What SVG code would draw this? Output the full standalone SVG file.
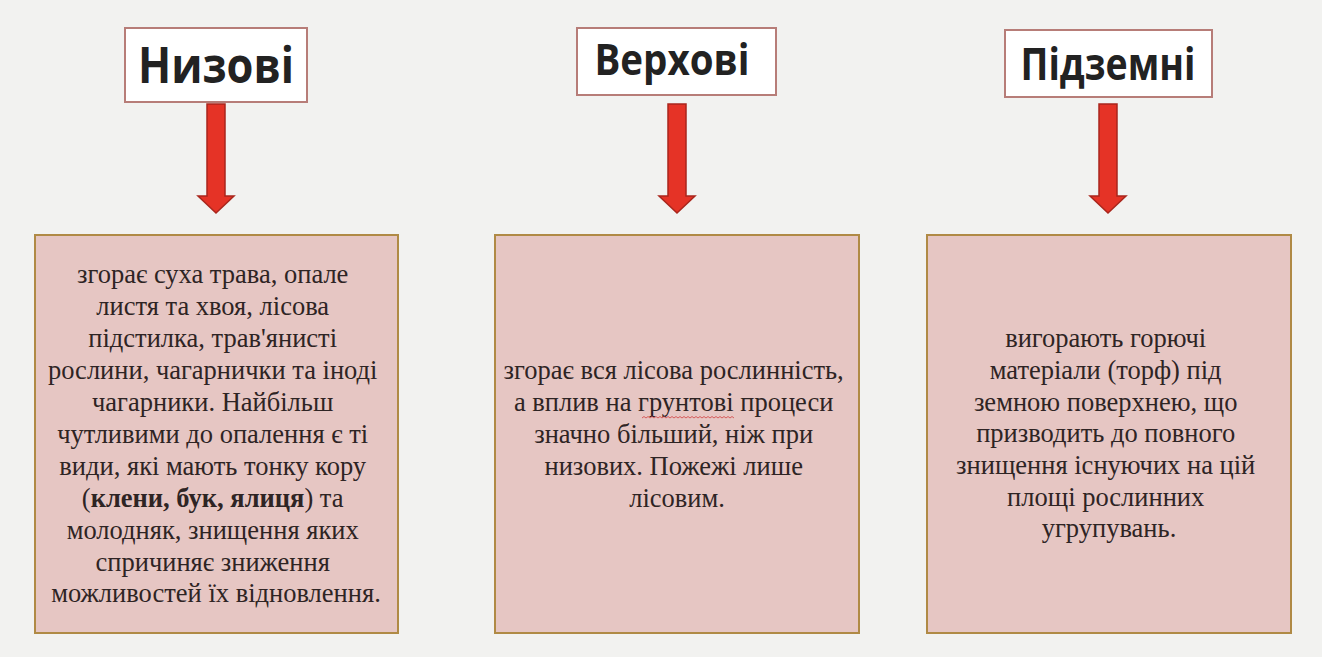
<svg xmlns="http://www.w3.org/2000/svg" width="1322" height="657" viewBox="0 0 1322 657">
<style>
.hdr{fill:#ffffff;stroke:#b77d78;stroke-width:2}
.ht{font-family:"Open Sans","Liberation Sans",sans-serif;font-weight:bold;fill:#222222;text-anchor:middle}
.box{fill:#e6c6c3;stroke:#b08a45;stroke-width:2}
.bt{font-family:"Liberation Serif","Times New Roman",serif;font-size:26.5px;fill:#2e2424;text-anchor:middle}
.arr{fill:#e53326;stroke:#a9261c;stroke-width:1.5}
</style>
<rect width="1322" height="657" fill="#f2f2f0"/>
<g id="node-nyzovi">
<rect class="hdr" x="125" y="28" width="182" height="74"/>
<text class="ht" x="216" y="83" font-size="50" textLength="156" lengthAdjust="spacingAndGlyphs">Низові</text>
</g>
<g id="node-verkhovi">
<rect class="hdr" x="577" y="28" width="199" height="67"/>
<text class="ht" x="672" y="75" font-size="43" textLength="155" lengthAdjust="spacingAndGlyphs">Верхові</text>
</g>
<g id="node-pidzemni">
<rect class="hdr" x="1005" y="30" width="207" height="67"/>
<text class="ht" x="1108" y="80" font-size="45" textLength="175" lengthAdjust="spacingAndGlyphs">Підземні</text>
</g>
<g id="connectors">
<path class="arr" d="M207,104 H225 V196 H234 L216,213 L198,196 H207 Z"/>
<path class="arr" d="M668,104 H686 V196 H695 L677,213 L659,196 H668 Z"/>
<path class="arr" d="M1099,104 H1117 V196 H1126 L1108,213 L1090,196 H1099 Z"/>
</g>
<g id="node-text1">
<rect class="box" x="35" y="235" width="363" height="398"/>
<text class="bt">
<tspan x="216" y="283">згорає суха трава, опале</tspan>
<tspan x="216" y="315">листя та хвоя, лісова</tspan>
<tspan x="216" y="347">підстилка, трав'янисті</tspan>
<tspan x="216" y="379">рослини, чагарнички та іноді</tspan>
<tspan x="216" y="411">чагарники. Найбільш</tspan>
<tspan x="216" y="443">чутливими до опалення є ті</tspan>
<tspan x="216" y="475">види, які мають тонку кору</tspan>
<tspan x="216" y="507">(<tspan font-weight="bold">клени, бук, ялиця</tspan>) та</tspan>
<tspan x="216" y="539">молодняк, знищення яких</tspan>
<tspan x="216" y="571">спричиняє зниження</tspan>
<tspan x="216" y="602">можливостей їх відновлення.</tspan>
</text>
</g>
<g id="node-text2">
<rect class="box" x="495" y="235" width="364" height="398"/>
<text class="bt">
<tspan x="677" y="379">згорає вся лісова рослинність,</tspan>
<tspan x="677" y="411">а вплив на грунтові процеси</tspan>
<tspan x="677" y="443">значно більший, ніж при</tspan>
<tspan x="677" y="475">низових. Пожежі лише</tspan>
<tspan x="677" y="507">лісовим.</tspan>
</text>
<path d="M642,418 l2,-1.5 l2,1.5 l2,-1.5 l2,1.5 l2,-1.5 l2,1.5 l2,-1.5 l2,1.5 l2,-1.5 l2,1.5 l2,-1.5 l2,1.5 l2,-1.5 l2,1.5 l2,-1.5 l2,1.5 l2,-1.5 l2,1.5 l2,-1.5 l2,1.5 l2,-1.5 l2,1.5 l2,-1.5 l2,1.5 l2,-1.5 l2,1.5 l2,-1.5 l2,1.5 l2,-1.5 l2,1.5 l2,-1.5 l2,1.5 l2,-1.5 l2,1.5 l2,-1.5 l2,1.5 l2,-1.5 l2,1.5 l2,-1.5 l2,1.5 l2,-1.5 l2,1.5 l2,-1.5 l2,1.5 l2,-1.5 l2,1.5" fill="none" stroke="#d04040" stroke-width="0.8"/>
</g>
<g id="node-text3">
<rect class="box" x="927" y="235" width="364" height="398"/>
<text class="bt">
<tspan x="1109" y="347">вигорають горючі</tspan>
<tspan x="1109" y="379">матеріали (торф) під</tspan>
<tspan x="1109" y="411">земною поверхнею, що</tspan>
<tspan x="1109" y="442">призводить до повного</tspan>
<tspan x="1109" y="474">знищення існуючих на цій</tspan>
<tspan x="1109" y="506">площі рослинних</tspan>
<tspan x="1109" y="537">угрупувань.</tspan>
</text>
</g>
</svg>
